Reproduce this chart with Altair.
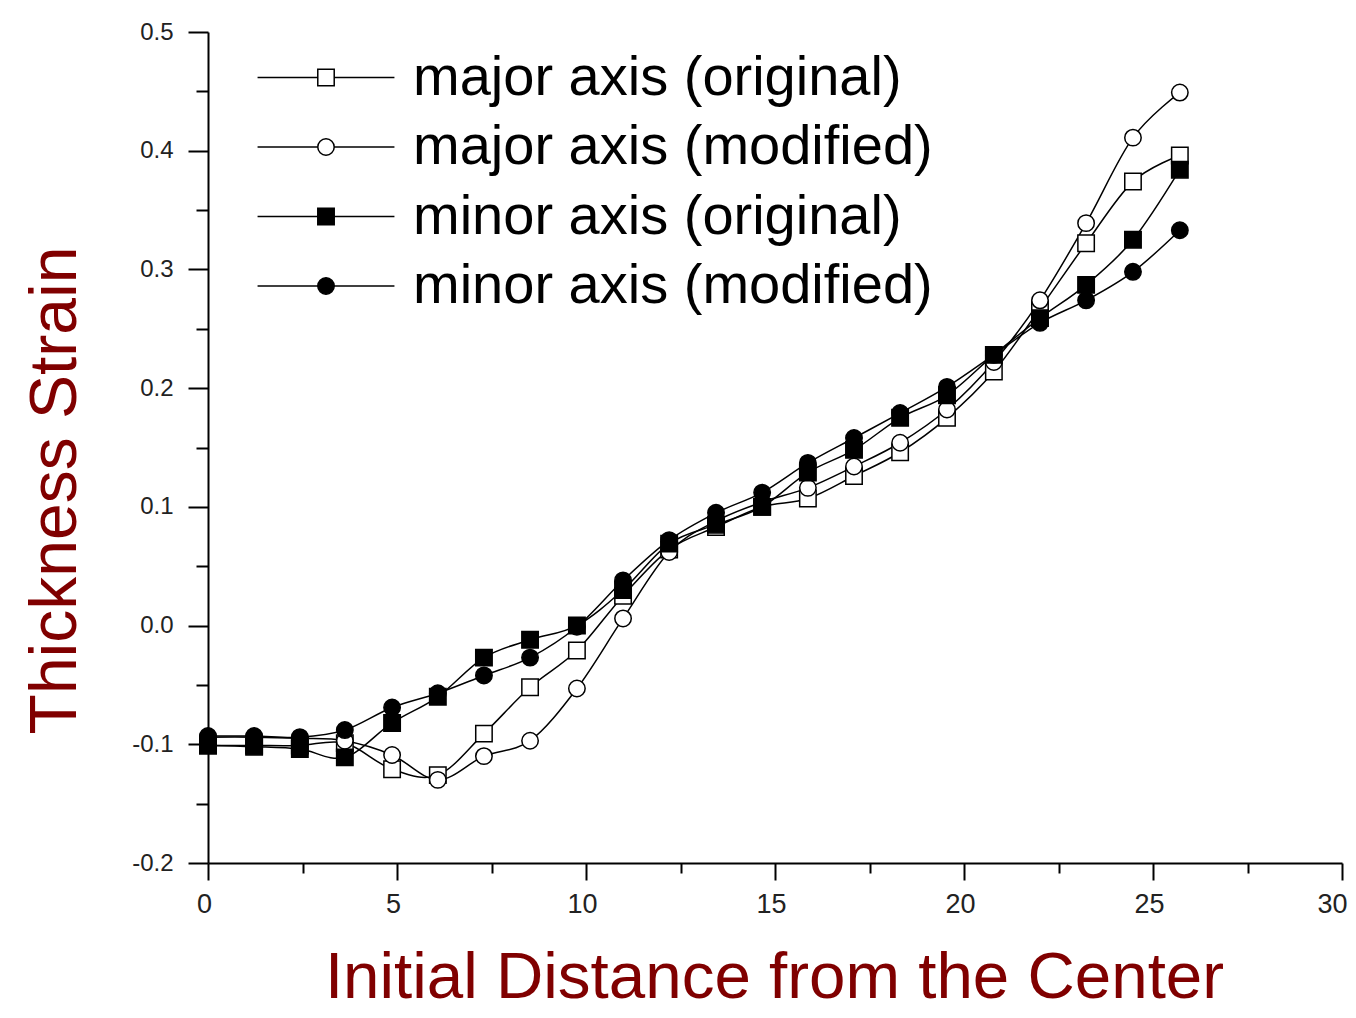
import altair as alt
import pandas as pd

# ---- data ----
x_vals = [0.00, 1.22, 2.43, 3.62, 4.87, 6.08, 7.30, 8.52, 9.76, 10.98, 12.20,
          13.44, 14.66, 15.87, 17.09, 18.31, 19.55, 20.79, 22.01, 23.23, 24.47, 25.71]
major_original = [-0.101, -0.101, -0.101, -0.099, -0.121, -0.126, -0.091, -0.052, -0.021, 0.025, 0.064,
                  0.083, 0.100, 0.107, 0.126, 0.146, 0.175, 0.214, 0.267, 0.322, 0.374, 0.396]
major_modified = [-0.094, -0.094, -0.095, -0.097, -0.109, -0.130, -0.110, -0.097, -0.053, 0.006, 0.062,
                  0.088, 0.104, 0.116, 0.134, 0.154, 0.182, 0.222, 0.274, 0.339, 0.411, 0.449]
minor_original = [-0.101, -0.102, -0.104, -0.111, -0.082, -0.060, -0.027, -0.012, 0.000, 0.030, 0.069,
                  0.085, 0.100, 0.129, 0.148, 0.175, 0.194, 0.228, 0.259, 0.287, 0.325, 0.384]
minor_modified = [-0.093, -0.093, -0.094, -0.088, -0.069, -0.057, -0.042, -0.027, -0.001, 0.038, 0.072,
                  0.095, 0.112, 0.137, 0.158, 0.179, 0.201, 0.228, 0.255, 0.274, 0.298, 0.333]

series_names = ["major axis (original)", "major axis (modified)",
                "minor axis (original)", "minor axis (modified)"]
series_values = [major_original, major_modified, minor_original, minor_modified]
series_shapes = ["square", "circle", "square", "circle"]
series_fills = ["white", "white", "black", "black"]

x_major_ticks = [0, 5, 10, 15, 20, 25, 30]
x_minor_ticks = [2.5, 7.5, 12.5, 17.5, 22.5, 27.5]
y_major_ticks = [-0.2, -0.1, 0.0, 0.1, 0.2, 0.3, 0.4, 0.5]
y_minor_ticks = [-0.15, -0.05, 0.05, 0.15, 0.25, 0.35, 0.45]

rows = []
for name, vals in zip(series_names, series_values):
    for xv, yv in zip(x_vals, vals):
        rows.append({"x": xv, "y": yv, "series": name, "series_l": name})
df = pd.DataFrame(rows)

FONT = "Liberation Sans"
DARKRED = "#800000"
MINUS = "\u2212"

xscale = alt.Scale(domain=[0, 30], nice=False, zero=False)
yscale = alt.Scale(domain=[-0.2, 0.5], nice=False, zero=False)

x_axis_major = alt.Axis(values=x_major_ticks, orient="bottom", tickSize=17, tickWidth=2,
                        domainWidth=2, domainColor="black", tickColor="black",
                        labelFontSize=27, labelPadding=11, labelColor="#222222", labelFont=FONT,
                        labelFlush=False,
                        labelAlign={"condition": {"test": "datum.value >= 30", "value": "right"},
                                    "value": "center"},
                        labelOffset={"condition": {"test": "datum.value >= 30", "value": 5},
                                     "value": -4},
                        grid=False,
                        title="Initial Distance from the Center", titleFont=FONT,
                        titleFontSize=65.5, titleFontWeight="normal", titleColor=DARKRED,
                        titleBaseline="alphabetic", titleAlign="center", titleX=566, titleY=134)
y_axis_major = alt.Axis(values=y_major_ticks, orient="left", tickSize=20, tickWidth=2,
                        labelExpr="replace(format(datum.value, '.1f'), '" + MINUS + "', '-')",
                        domainWidth=2, domainColor="black", tickColor="black",
                        labelFontSize=24, labelPadding=15, labelColor="#222222", labelFont=FONT,
                        labelFlush=False, grid=False,
                        title="Thickness Strain", titleFont=FONT, titleFontSize=66,
                        titleFontWeight="normal", titleColor=DARKRED, titleAngle=270,
                        titleBaseline="alphabetic", titleAlign="center", titleX=-133, titleY=458)

x_axis_minor = alt.Axis(values=x_minor_ticks, orient="bottom", tickSize=10, tickWidth=2,
                        tickColor="black", domain=False, labels=False, grid=False, title=None)
y_axis_minor = alt.Axis(values=y_minor_ticks, orient="left", tickSize=12, tickWidth=2,
                        tickColor="black", domain=False, labels=False, grid=False, title=None)

SYM = 270
LEG_FS = 56
line_legend = alt.Legend(title=None, orient="none", legendX=90, legendY=17.5, padding=0,
                         symbolType="M-8.33,0H8.33", symbolSize=SYM, symbolStrokeWidth=1.5,
                         labelFontSize=LEG_FS, labelFont=FONT, labelExpr="' '", labelLimit=0,
                         rowPadding=13.5, labelOffset=59)
point_legend = alt.Legend(title=None, orient="none", legendX=90, legendY=17.5, padding=0,
                          symbolSize=SYM, symbolStrokeWidth=1.5,
                          labelFontSize=LEG_FS, labelFont=FONT, labelColor="black", labelLimit=0,
                          rowPadding=13.5, labelOffset=59)

lines = alt.Chart(df).mark_line(interpolate="cardinal", strokeWidth=1.5).encode(
    x=alt.X("x:Q", scale=xscale, axis=x_axis_major),
    y=alt.Y("y:Q", scale=yscale, axis=y_axis_major),
    color=alt.Color("series_l:N", scale=alt.Scale(range=["black"] * 4), legend=line_legend),
)

points = alt.Chart(df).mark_point(filled=True, size=SYM, strokeWidth=1.5, opacity=1).encode(
    x=alt.X("x:Q", scale=xscale, axis=x_axis_minor),
    y=alt.Y("y:Q", scale=yscale, axis=y_axis_minor),
    shape=alt.Shape("series:N", scale=alt.Scale(domain=series_names, range=series_shapes),
                    legend=point_legend),
    fill=alt.Fill("series:N", scale=alt.Scale(domain=series_names, range=series_fills),
                  legend=point_legend),
    stroke=alt.Stroke("series:N", scale=alt.Scale(domain=series_names, range=["black"] * 4),
                      legend=point_legend),
)

chart = alt.layer(lines, points).resolve_axis(x="independent", y="independent").properties(
    width=1134, height=831,
    padding={"left": 200, "top": 24, "right": 6, "bottom": 147},
    autosize=alt.AutoSizeParams(type="none"),
    background="white",
).configure_view(stroke=None)

chart.save("out.html", embed_options={"renderer": "svg", "actions": False})
